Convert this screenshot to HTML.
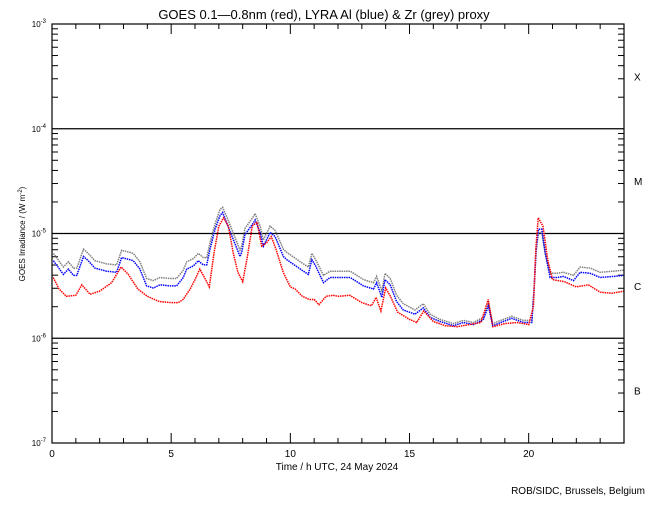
<!DOCTYPE html>
<html><head><meta charset="utf-8"><style>
body{margin:0;background:#fff}
svg text{font-family:"Liberation Sans",sans-serif;fill:#000}
</style></head><body>
<svg id="c" width="650" height="500" xmlns="http://www.w3.org/2000/svg"></svg>
<script>
const redHours=[0.05,0.3,0.6,1.0,1.25,1.6,2.0,2.5,2.9,3.2,3.6,4.0,4.5,5.0,5.3,5.5,5.8,6.0,6.2,6.4,6.6,6.8,7.0,7.2,7.4,7.6,7.8,8.0,8.2,8.4,8.6,8.8,9.0,9.2,9.4,9.7,10.0,10.2,10.5,10.8,11.0,11.2,11.5,11.8,12.0,12.5,13.0,13.4,13.6,13.8,14.0,14.2,14.5,15.0,15.3,15.6,16.0,16.5,17.0,17.5,18.0,18.3,18.5,19.0,19.5,20.0,20.2,20.3,20.4,20.6,20.8,21.0,21.5,22.0,22.5,23.0,23.5,24];
const redLog=[-5.42,-5.53,-5.60,-5.59,-5.49,-5.58,-5.55,-5.47,-5.32,-5.39,-5.53,-5.60,-5.65,-5.66,-5.66,-5.63,-5.53,-5.44,-5.34,-5.42,-5.51,-5.18,-4.93,-4.85,-4.93,-5.18,-5.37,-5.46,-5.22,-4.93,-4.89,-5.12,-5.09,-5.03,-5.15,-5.37,-5.51,-5.53,-5.60,-5.63,-5.63,-5.68,-5.60,-5.59,-5.60,-5.59,-5.66,-5.69,-5.61,-5.74,-5.52,-5.60,-5.75,-5.82,-5.85,-5.74,-5.84,-5.88,-5.89,-5.87,-5.85,-5.63,-5.89,-5.86,-5.85,-5.87,-5.70,-5.15,-4.85,-4.93,-5.25,-5.44,-5.46,-5.51,-5.49,-5.56,-5.57,-5.55];
const blueHours=[0.06,0.48,0.69,0.90,1.04,1.32,1.52,1.80,2.29,2.71,2.92,3.27,3.41,3.69,3.97,4.25,4.53,4.95,5.23,5.51,5.65,5.93,6.14,6.35,6.49,6.63,6.84,7.05,7.16,7.33,7.61,7.89,7.96,8.10,8.45,8.52,8.73,8.87,9.15,9.36,9.71,9.85,10.55,10.76,10.90,11.04,11.39,11.67,12.51,13.07,13.49,13.62,13.84,13.97,14.19,14.46,14.74,15.23,15.58,15.86,16.28,16.84,17.26,17.68,18.10,18.31,18.49,18.94,19.29,19.78,20.13,20.23,20.31,20.41,20.55,20.69,20.90,21.18,21.46,21.88,22.16,22.58,23.00,23.56,23.98];
const blueLog=[-5.26,-5.39,-5.34,-5.40,-5.40,-5.22,-5.26,-5.33,-5.36,-5.37,-5.23,-5.25,-5.26,-5.34,-5.50,-5.52,-5.49,-5.50,-5.50,-5.42,-5.34,-5.31,-5.26,-5.30,-5.30,-5.15,-4.96,-4.83,-4.80,-4.90,-5.06,-5.22,-5.18,-5.01,-4.90,-4.87,-4.99,-5.12,-4.99,-5.03,-5.22,-5.25,-5.36,-5.39,-5.25,-5.30,-5.47,-5.42,-5.42,-5.50,-5.53,-5.47,-5.61,-5.44,-5.49,-5.65,-5.73,-5.77,-5.71,-5.80,-5.84,-5.88,-5.85,-5.87,-5.82,-5.69,-5.88,-5.84,-5.81,-5.85,-5.85,-5.53,-5.15,-4.96,-4.96,-5.18,-5.42,-5.42,-5.41,-5.45,-5.37,-5.38,-5.42,-5.41,-5.40];
const greyLog=[-5.19,-5.32,-5.27,-5.33,-5.33,-5.15,-5.19,-5.26,-5.29,-5.30,-5.16,-5.18,-5.19,-5.27,-5.43,-5.45,-5.42,-5.43,-5.43,-5.35,-5.27,-5.24,-5.19,-5.23,-5.23,-5.09,-4.91,-4.77,-4.75,-4.84,-5.00,-5.16,-5.12,-4.95,-4.84,-4.81,-4.93,-5.06,-4.93,-4.97,-5.15,-5.18,-5.29,-5.32,-5.19,-5.24,-5.40,-5.36,-5.36,-5.44,-5.47,-5.41,-5.55,-5.38,-5.43,-5.59,-5.67,-5.73,-5.67,-5.77,-5.82,-5.86,-5.83,-5.85,-5.80,-5.67,-5.86,-5.82,-5.79,-5.83,-5.83,-5.53,-5.18,-4.99,-4.99,-5.18,-5.38,-5.38,-5.37,-5.40,-5.32,-5.33,-5.37,-5.36,-5.35];
const yTickLabels=["-3","-4","-5","-6","-7"];
const classLabels=["X","M","C","B"];
const xTickLabels=[0,5,10,15,20];

const NS="http://www.w3.org/2000/svg",svg=document.getElementById('c');
const X0=52,X1=624,Y0=24,Y1=443;
const xs=h=>X0+(X1-X0)*h/24;
const ys=e=>Y0+(Y1-Y0)*(-3-e)/4;
function mk(t,a,p){const el=document.createElementNS(NS,t);for(const k in a)el.setAttribute(k,a[k]);(p||svg).appendChild(el);return el;}

let t=mk('text',{x:324,y:19,'font-size':13,'text-anchor':'middle'});t.textContent='GOES 0.1\u20140.8nm (red), LYRA Al (blue) & Zr (grey) proxy';



for(let d=1;d<4;d++){const l=mk('line',{x1:X0,x2:X1,y1:ys(-3-d),y2:ys(-3-d),stroke:'#000','stroke-width':1.2});

}

yTickLabels.forEach((s,i)=>{const y=ys(-3-i);
const g=mk('text',{x:46,y:y+3,'font-size':8,'text-anchor':'end'});


g.innerHTML='10<tspan dy="-4" font-size="6">'+s+'</tspan>';
if(i<4){for(let m=2;m<10;m++){const yy=ys(-3-i-1+Math.log10(m));
mk('line',{x1:X0,x2:X0+6,y1:yy,y2:yy,stroke:'#000'});mk('line',{x1:X1-6,x2:X1,y1:yy,y2:yy,stroke:'#000'});}}
});
classLabels.forEach((s,i)=>{const g=mk('text',{x:634,y:ys(-3.5-i)+4,'font-size':10});g.textContent=s;

});

for(let h=0;h<=24;h++){const x=xs(h),L=h%5==0?10:5;
mk('line',{x1:x,x2:x,y1:Y1,y2:Y1-L,stroke:'#000'});mk('line',{x1:x,x2:x,y1:Y0,y2:Y0+L,stroke:'#000'});}
xTickLabels.forEach(v=>{const g=mk('text',{x:xs(v),y:457,'font-size':10,'text-anchor':'middle'});g.textContent=v;

});

let xt=mk('text',{x:337,y:470,'font-size':10,'text-anchor':'middle'});xt.textContent='Time / h UTC, 24 May 2024';


let yt=mk('text',{x:25,y:234,'font-size':8,'text-anchor':'middle',transform:'rotate(-90 25 234)'});
yt.innerHTML='GOES Irradiance / (W m<tspan dy="-3" font-size="6">-2</tspan><tspan dy="3">)</tspan>';


let cr=mk('text',{x:645,y:494,'font-size':10,'text-anchor':'end'});cr.textContent='ROB/SIDC, Brussels, Belgium';



function series(hours,vals,col,name){const pts=hours.map((h,i)=>xs(h).toFixed(1)+','+ys(vals[i]).toFixed(1)).join(' ');
const p=mk('polyline',{points:pts,fill:'none',stroke:col,'stroke-width':1.5,'stroke-dasharray':'1.5 0.8'});

}
series(blueHours,greyLog,'#808080','zr-grey-series');
series(blueHours,blueLog,'#0000ff','al-blue-series');
series(redHours,redLog,'#ff0000','goes-red-series');

const fr=mk('rect',{x:X0,y:Y0,width:X1-X0,height:Y1-Y0,fill:'none',stroke:'#000','stroke-width':1.2});


</script>
</body></html>
